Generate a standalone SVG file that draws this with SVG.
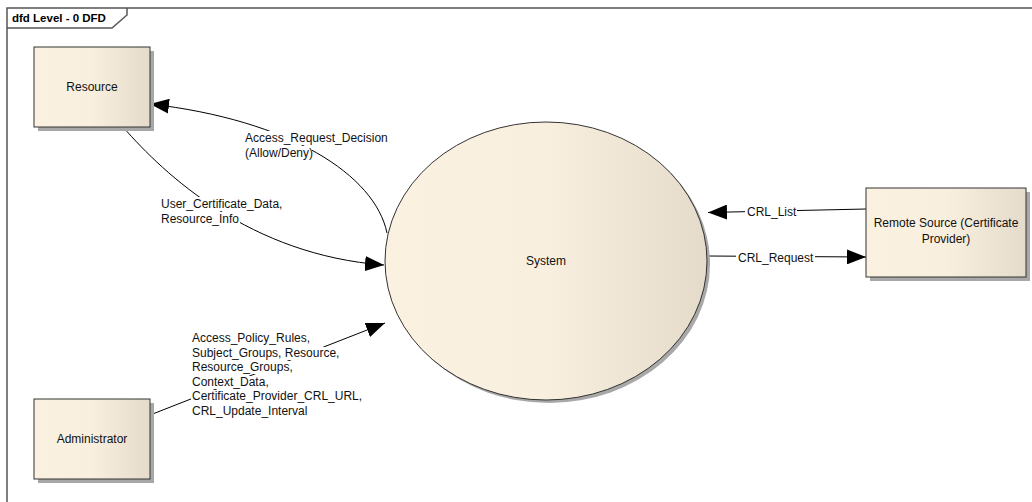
<svg xmlns="http://www.w3.org/2000/svg" width="1032" height="502" viewBox="0 0 1032 502">
  <defs>
    <linearGradient id="fillGrad" x1="0" y1="0" x2="1" y2="0">
      <stop offset="0" stop-color="#FAF1E1"/>
      <stop offset="0.5" stop-color="#F9EFDF"/>
      <stop offset="1" stop-color="#E4DBCB"/>
    </linearGradient>
    <marker id="arrow" markerUnits="userSpaceOnUse" viewBox="0 0 19 15" refX="19" refY="7.5" markerWidth="19" markerHeight="15" orient="auto">
      <path d="M0,0 L19,7.5 L0,15 Z" fill="#000"/>
    </marker>
    <style>
      .frame { fill: none; stroke: #555; stroke-width: 1.5; }
      .title { font-family: "Liberation Sans", Arial, sans-serif; font-size: 11.5px; font-weight: bold; fill: #000; }
      .node { fill: url(#fillGrad); stroke: #333; stroke-width: 1; }
      .shadow { fill: #A8A8A8; }
      .ntext { font-family: "Liberation Sans", Arial, sans-serif; font-size: 12px; fill: #111; text-anchor: middle; }
      .flow { fill: none; stroke: #000; stroke-width: 1; }
      .ltext { font-family: "Liberation Sans", Arial, sans-serif; font-size: 12px; fill: #111; }
      .lbg { fill: #fff; }
    </style>
  </defs>

  <rect width="1032" height="502" fill="#fff"/>

  <!-- diagram frame with name tab -->
  <g id="frame">
    <path class="frame" d="M7,510 L7,8 L1040,8"/>
    <path class="frame" d="M7,28 L112,28 L127,15 L127,8"/>
    <text class="title" x="12" y="22">dfd Level - 0 DFD</text>
  </g>

  <!-- data flows -->
  <g id="connectors">
    <path id="flow-decision" class="flow" d="M387,233 C375,175 290,120 150,104" marker-end="url(#arrow)"/>
    <path id="flow-certdata" class="flow" d="M123,127 C165,175 250,255 384,265" marker-end="url(#arrow)"/>
    <path id="flow-policy" class="flow" d="M150,415 L385,323" marker-end="url(#arrow)"/>
    <path id="flow-crl-list" class="flow" d="M866,209 L708,212.5" marker-end="url(#arrow)"/>
    <path id="flow-crl-request" class="flow" d="M707,256 L866,257" marker-end="url(#arrow)"/>
  </g>

  <!-- flow labels -->
  <g id="connector-labels">
    <g id="label-decision">
      <rect class="lbg" x="244" y="131" width="144" height="14"/>
      <rect class="lbg" x="244" y="146" width="68" height="14"/>
      <text class="ltext" x="245" y="141.5">Access_Request_Decision</text>
      <text class="ltext" x="245" y="156.5">(Allow/Deny)</text>
    </g>
    <g id="label-certdata">
      <rect class="lbg" x="160" y="197" width="123" height="14"/>
      <rect class="lbg" x="160" y="212" width="80" height="14"/>
      <text class="ltext" x="161" y="207.5">User_Certificate_Data,</text>
      <text class="ltext" x="161" y="222.5">Resource_Info</text>
    </g>
    <g id="label-policy">
      <rect class="lbg" x="191" y="332" width="118" height="13"/>
      <rect class="lbg" x="191" y="347" width="149" height="13"/>
      <rect class="lbg" x="191" y="361" width="102" height="13"/>
      <rect class="lbg" x="191" y="376" width="71" height="13"/>
      <rect class="lbg" x="191" y="390" width="169" height="13"/>
      <rect class="lbg" x="191" y="405" width="118" height="13"/>
      <text class="ltext" x="192" y="342">Access_Policy_Rules,</text>
      <text class="ltext" x="192" y="356.6">Subject_Groups, Resource,</text>
      <text class="ltext" x="192" y="371.2">Resource_Groups,</text>
      <text class="ltext" x="192" y="385.8">Context_Data,</text>
      <text class="ltext" x="192" y="400.4">Certificate_Provider_CRL_URL,</text>
      <text class="ltext" x="192" y="415">CRL_Update_Interval</text>
    </g>
    <g id="label-crl-list">
      <rect class="lbg" x="745" y="205" width="52" height="14"/>
      <text class="ltext" x="747" y="215.5">CRL_List</text>
    </g>
    <g id="label-crl-request">
      <rect class="lbg" x="736" y="251" width="79" height="14"/>
      <text class="ltext" x="738" y="262">CRL_Request</text>
    </g>
  </g>

  <!-- external entities and process -->
  <g id="node-resource">
    <rect class="shadow" x="38" y="51" width="116" height="80"/>
    <rect class="node" x="34" y="47" width="116" height="80"/>
    <text class="ntext" x="92" y="91">Resource</text>
  </g>

  <g id="node-administrator">
    <rect class="shadow" x="38" y="403" width="116" height="80"/>
    <rect class="node" x="34" y="399" width="116" height="80"/>
    <text class="ntext" x="92" y="443">Administrator</text>
  </g>

  <g id="node-system">
    <ellipse class="shadow" cx="549" cy="264" rx="161" ry="139"/>
    <ellipse class="node" cx="546" cy="261" rx="161" ry="139"/>
    <text class="ntext" x="546" y="265">System</text>
  </g>

  <g id="node-remote-source">
    <rect class="shadow" x="870" y="192" width="160" height="89"/>
    <rect class="node" x="866" y="188" width="160" height="89"/>
    <text class="ntext" x="946" y="227">Remote Source (Certificate</text>
    <text class="ntext" x="946" y="243">Provider)</text>
  </g>
</svg>
